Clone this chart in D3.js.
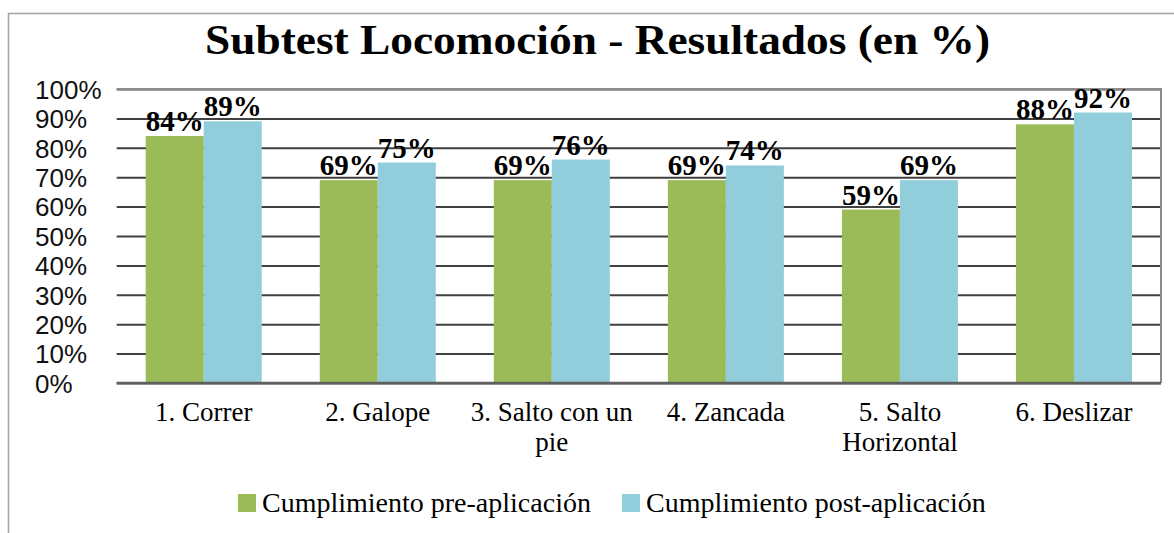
<!DOCTYPE html>
<html>
<head>
<meta charset="utf-8">
<script src="https://cdn.jsdelivr.net/npm/d3@7"></script>
<style>
  html, body { margin: 0; padding: 0; background: #fff; }
  svg { display: block; }
</style>
</head>
<body>
<svg id="chart" width="1174" height="533"></svg>
<script>
// Locomotion subtest: share of children meeting each criterion, before and after
const categories = ["1. Correr", "2. Galope", "3. Salto con un pie", "4. Zancada", "5. Salto Horizontal", "6. Deslizar"];
const seriesNames = ["Cumplimiento pre-aplicación", "Cumplimiento post-aplicación"];
const preValues = [84, 69, 69, 69, 59, 88];
const postValues = [89, 75, 76, 74, 69, 92];
const yTicks = [0, 10, 20, 30, 40, 50, 60, 70, 80, 90, 100];
const titleText = "Subtest Locomoción - Resultados (en %)";
const seriesColors = ["#9BBB59", "#92CDDC"];

const svg = d3.select("#chart");
const W = 1174, H = 533;
const plot = { left: 116.7, right: 1161, top: 89, bottom: 383 };

// Outer chart frame
svg.append("rect")
  .attr("x", 8.5).attr("y", 13.5)
  .attr("width", W + 40).attr("height", H + 40)
  .attr("fill", "#fff").attr("stroke", "#a6a6a6").attr("stroke-width", 1.6);

// Title
svg.append("text")
  .attr("x", 597.5).attr("y", 54)
  .attr("text-anchor", "middle")
  .attr("font-family", "'Liberation Serif', serif")
  .attr("font-weight", "bold")
  .attr("font-size", 42)
  .attr("textLength", 785)
  .attr("lengthAdjust", "spacingAndGlyphs")
  .attr("fill", "#000")
  .text(titleText);

const y = d3.scaleLinear().domain([0, 100]).range([plot.bottom, plot.top]);
const x0 = d3.scaleBand().domain(categories)
  .range([plot.left, plot.right])
  .paddingInner(1 / 3).paddingOuter(1 / 6);
const x1 = d3.scaleBand().domain(seriesNames).range([0, x0.bandwidth()]);

// Horizontal gridlines with left-aligned percentage labels
const yAxis = d3.axisLeft(y).tickValues(yTicks)
  .tickSize(-(plot.right - plot.left))
  .tickFormat(d => d + "%");
const gy = svg.append("g")
  .attr("transform", `translate(${plot.left},0)`)
  .call(yAxis);
gy.select(".domain").remove();
gy.selectAll(".tick line")
  .attr("stroke", "#404040").attr("stroke-width", 2);
gy.selectAll(".tick text")
  .attr("x", 35 - plot.left)
  .attr("dy", "0.36em")
  .attr("text-anchor", "start")
  .attr("font-family", "'Liberation Sans', sans-serif")
  .attr("font-size", 26)
  .attr("fill", "#111");

// Plot area border (top and right)
svg.append("path")
  .attr("d", `M${plot.left},${y(100)}H${plot.right}V${plot.bottom}`)
  .attr("fill", "none").attr("stroke", "#8c8c8c").attr("stroke-width", 2);

// Bars
const rows = categories.map((c, i) => ({ cat: c, vals: [preValues[i], postValues[i]] }));
const groups = svg.append("g").selectAll("g")
  .data(rows).join("g")
  .attr("transform", d => `translate(${x0(d.cat)},0)`);

groups.selectAll("rect")
  .data(d => d.vals.map((v, j) => ({ name: seriesNames[j], v, j })))
  .join("rect")
  .attr("x", d => x1(d.name))
  .attr("y", d => y(d.v))
  .attr("width", x1.bandwidth())
  .attr("height", d => y(0) - y(d.v))
  .attr("fill", d => seriesColors[d.j]);

// Value labels above bars
groups.selectAll("text.val")
  .data(d => d.vals.map((v, j) => ({ name: seriesNames[j], v, j })))
  .join("text")
  .attr("class", "val")
  .attr("x", d => x1(d.name) + x1.bandwidth() / 2)
  .attr("y", d => y(d.v) - 5)
  .attr("text-anchor", "middle")
  .attr("font-family", "'Liberation Serif', serif")
  .attr("font-weight", "bold")
  .attr("font-size", 29)
  .attr("fill", "#000")
  .text(d => d.v + "%");

// X axis baseline
const xAxis = d3.axisBottom(x0).tickSize(0).tickSizeOuter(0);
const gx = svg.append("g")
  .attr("transform", `translate(0,${plot.bottom})`)
  .call(xAxis);
gx.select(".domain")
  .attr("d", `M${plot.left},0H${plot.right}`)
  .attr("stroke", "#5f5f5f").attr("stroke-width", 2.5);
gx.selectAll(".tick text")
  .attr("font-family", "'Liberation Serif', serif")
  .attr("font-size", 27)
  .attr("fill", "#000")
  .attr("y", 38)
  .attr("dy", 0)
  .call(wrap, 172);

function wrap(sel, width) {
  sel.each(function () {
    const t = d3.select(this);
    const words = t.text().split(/\s+/);
    const yy = +t.attr("y");
    t.text(null);
    let line = [];
    let lineNo = 0;
    let tspan = t.append("tspan").attr("x", 0).attr("y", yy);
    for (const w of words) {
      line.push(w);
      tspan.text(line.join(" "));
      if (tspan.node().getComputedTextLength() > width && line.length > 1) {
        line.pop();
        tspan.text(line.join(" "));
        line = [w];
        lineNo++;
        tspan = t.append("tspan").attr("x", 0).attr("y", yy + lineNo * 30).text(w);
      }
    }
  });
}

// Legend
const legendItems = [
  { name: seriesNames[0], color: seriesColors[0], x: 238 },
  { name: seriesNames[1], color: seriesColors[1], x: 622 }
];
const lg = svg.append("g").selectAll("g")
  .data(legendItems).join("g")
  .attr("transform", d => `translate(${d.x},494)`);
lg.append("rect")
  .attr("width", 18).attr("height", 18)
  .attr("fill", d => d.color);
lg.append("text")
  .attr("x", 24).attr("y", 18)
  .attr("font-family", "'Liberation Serif', serif")
  .attr("font-size", 28)
  .attr("fill", "#000")
  .text(d => d.name);
</script>
</body>
</html>
